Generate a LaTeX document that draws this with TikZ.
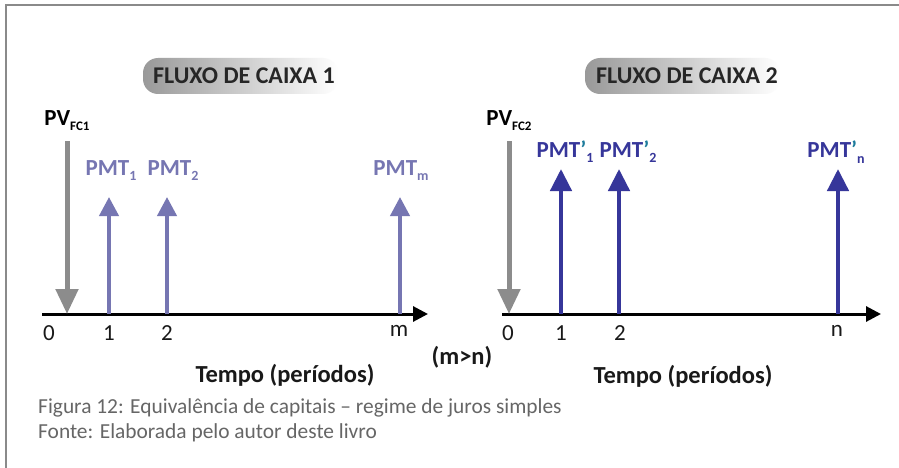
\documentclass[tikz,border=0pt]{standalone}
\usepackage{fontspec}
\setmainfont{Carlito}
\usetikzlibrary{arrows.meta}
\definecolor{pvgray}{HTML}{8C8C8C}
\definecolor{pmtlight}{HTML}{7676B2}
\definecolor{pmtdark}{HTML}{36369A}
\definecolor{primeteal}{HTML}{1E7C9C}
\definecolor{framegray}{HTML}{8A8A8A}
\definecolor{capgray}{HTML}{666666}
\newcommand{\primesym}{{\color{primeteal}\char"2019}}
\begin{document}
\begin{tikzpicture}[x=1pt,y=-1pt,
  frame/.style={framegray,line width=2.6pt},
  timeaxis/.style={black,line width=3pt,-{Triangle[width=15pt,length=15pt]}},
  pvarrow/.style={pvgray,line width=5pt,-{Triangle[width=22pt,length=25pt]}},
  pmtlightarrow/.style={pmtlight,line width=4pt,-{Triangle[width=19pt,length=19pt]}},
  pmtdarkarrow/.style={pmtdark,line width=4.5pt,-{Triangle[width=21pt,length=22pt]}},
  pill/.style={rounded corners=15pt,left color=black!40,right color=white,draw=none},
  title/.style={font=\fontsize{24}{26}\selectfont\bfseries,text=black!85},
  pvlabel/.style={font=\fontsize{23}{26}\selectfont\bfseries,text=black},
  pmtl/.style={font=\fontsize{23}{26}\selectfont\bfseries,text=pmtlight},
  pmtd/.style={font=\fontsize{23}{26}\selectfont\bfseries,text=pmtdark},
  tick/.style={font=\fontsize{23}{26}\selectfont,text=black!90},
  axlabel/.style={font=\fontsize{24.5}{26}\selectfont\bfseries,text=black!90},
  caption/.style={font=\fontsize{21.4}{24}\selectfont,text=capgray,anchor=west,inner sep=0pt},
]
\useasboundingbox (0,0) rectangle (899,468);
\fill[white] (0,0) rectangle (899,468);
% frame
\draw[frame] (6,468) -- (6,5) -- (899,5);

% ---------- chart 1 ----------
\shade[pill] (143,58) rectangle (338,94);
\node[title] (t1) at (244,76) {FLUXO DE CAIXA 1};

\coordinate (a1s) at (42,314);
\coordinate (a1e) at (428,314);
\draw[timeaxis] (a1s) -- (a1e);

\coordinate (pv1top) at (67,141);
\coordinate (pv1bot) at (67,314);
\draw[pvarrow] (pv1top) -- (pv1bot);
\node[pvlabel] (pv1) at (67,121) {PV\raisebox{-0.45ex}{\fontsize{13}{13}\selectfont FC1}};

\foreach \nm/\x in {p11/109, p12/167, p1m/400}{
  \coordinate (\nm b) at (\x,314);
  \coordinate (\nm t) at (\x,197);
  \draw[pmtlightarrow] (\nm b) -- (\nm t);
}
\node[pmtl] (l11) at (111,171) {PMT\raisebox{-0.45ex}{\fontsize{14}{14}\selectfont 1}};
\node[pmtl] (l12) at (173,171) {PMT\raisebox{-0.45ex}{\fontsize{14}{14}\selectfont 2}};
\node[pmtl] (l1m) at (401,171) {PMT\raisebox{-0.45ex}{\fontsize{14}{14}\selectfont m}};

\node[tick] (z1) at (49,333) {0};
\node[tick] (o1) at (109,333) {1};
\node[tick] (w1) at (167,333) {2};
\node[tick] (m1) at (399,331) {m};
\node[axlabel] (tempo1) at (285,375) {Tempo (períodos)};

\node[axlabel] (mn) at (462,357) {(m>n)};

% ---------- chart 2 ----------
\shade[pill] (585,58) rectangle (780,94);
\node[title] (t2) at (687,76) {FLUXO DE CAIXA 2};

\coordinate (a2s) at (502,314);
\coordinate (a2e) at (881,314);
\draw[timeaxis] (a2s) -- (a2e);

\coordinate (pv2top) at (509,141);
\coordinate (pv2bot) at (509,314);
\draw[pvarrow] (pv2top) -- (pv2bot);
\node[pvlabel] (pv2) at (509,121) {PV\raisebox{-0.45ex}{\fontsize{13}{13}\selectfont FC2}};

\foreach \nm/\x in {p21/561, p22/619, p2n/838}{
  \coordinate (\nm b) at (\x,314);
  \coordinate (\nm t) at (\x,169);
  \draw[pmtdarkarrow] (\nm b) -- (\nm t);
}
\node[pmtd] (l21) at (565,152) {PMT\primesym\raisebox{-0.45ex}{\fontsize{14}{14}\selectfont 1}};
\node[pmtd] (l22) at (628,152) {PMT\primesym\raisebox{-0.45ex}{\fontsize{14}{14}\selectfont 2}};
\node[pmtd] (l2n) at (836,152) {PMT\primesym\raisebox{-0.6ex}{\fontsize{14}{14}\selectfont n}};

\node[tick] (z2) at (508,333) {0};
\node[tick] (o2) at (561,333) {1};
\node[tick] (w2) at (620,333) {2};
\node[tick] (n2) at (837,331) {n};
\node[axlabel] (tempo2) at (683,376) {Tempo (períodos)};

% ---------- caption ----------
\node[caption] (cap1) at (38,408) {Figura 12: Equivalência de capitais – regime de juros simples};
\node[caption] (cap2) at (38,433) {Fonte: Elaborada pelo autor deste livro};
\end{tikzpicture}
\end{document}
